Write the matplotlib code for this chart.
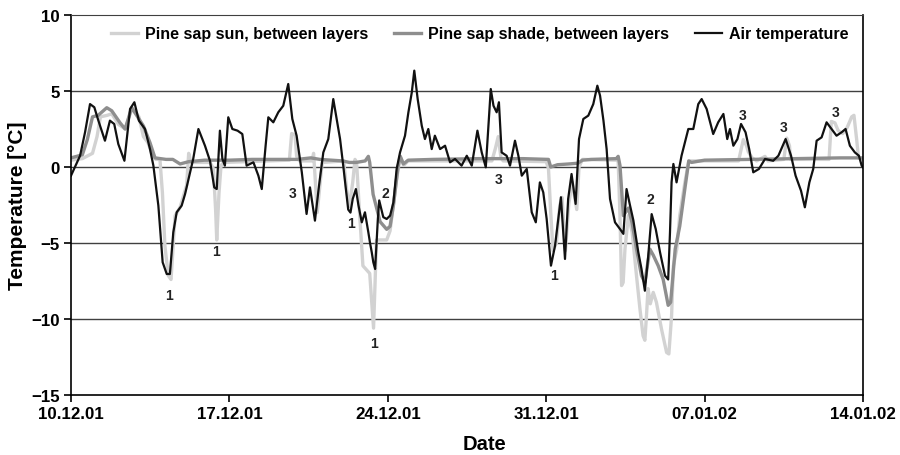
import pandas as pd
import matplotlib.pyplot as plt
import matplotlib.dates as mdates

plt.rcParams['font.family'] = ['Liberation Sans', 'DejaVu Sans']
plt.rcParams['font.weight'] = 'bold'

#Start of the record, all x values are days after it
start = pd.Timestamp('2001-12-10')

#Air temperature (black)
air_day = [0.0, 0.4, 0.62, 0.84, 1.03, 1.21, 1.5, 1.72, 1.91, 2.09, 2.36, 2.61, 2.8, 3.0, 3.27, 3.49,
           3.64, 3.86, 4.05, 4.23, 4.37, 4.52, 4.67, 4.89, 5.04, 5.26, 5.4, 5.63, 5.92, 6.14, 6.33, 6.44,
           6.58, 6.69, 6.8, 6.95, 7.13, 7.36, 7.57, 7.76, 8.06, 8.28, 8.43, 8.6, 8.72, 8.94, 9.16, 9.38,
           9.6, 9.78, 9.97, 10.2, 10.41, 10.56, 10.78, 10.96, 11.15, 11.37, 11.59, 11.74, 11.89, 12.03,
           12.18, 12.25, 12.35, 12.45, 12.59, 12.7, 12.85, 12.99, 13.14, 13.21, 13.29, 13.36, 13.44, 13.56,
           13.62, 13.8, 13.95, 14.1, 14.25, 14.39, 14.54, 14.76, 14.91, 15.06, 15.17, 15.32, 15.5, 15.64,
           15.79, 15.94, 16.08, 16.31, 16.53, 16.75, 16.97, 17.26, 17.49, 17.71, 17.96, 18.15, 18.33, 18.55,
           18.67, 18.81, 18.91, 19.03, 19.25, 19.4, 19.62, 19.77, 19.92, 20.14, 20.36, 20.54, 20.72, 20.87,
           21.02, 21.21, 21.39, 21.65, 21.83, 21.97, 22.12, 22.3, 22.45, 22.64, 22.86, 23.08, 23.26, 23.38,
           23.53, 23.67, 23.82, 24.04, 24.26, 24.41, 24.55, 24.7, 24.85, 25.07, 25.21, 25.36, 25.5, 25.66,
           25.84, 26.03, 26.25, 26.39, 26.47, 26.54, 26.62, 26.76, 26.98, 27.28, 27.5, 27.72, 27.87, 28.09,
           28.38, 28.6, 28.83, 29.0, 29.12, 29.27, 29.45, 29.61, 29.81, 29.97, 30.15, 30.4, 30.67, 31.03,
           31.26, 31.58, 31.82, 32.02, 32.26, 32.43, 32.63, 32.8, 32.95, 33.17, 33.39, 33.61, 33.83, 34.05,
           34.23, 34.42, 34.64, 34.82, 34.94, 35.0]
air_temp = [-0.57, 0.74, 2.28, 4.14, 3.93, 3.05, 1.73, 3.05, 2.83, 1.51, 0.41, 3.82, 4.26, 3.05, 2.5, 1.18,
            0.09, -2.54, -6.27, -7.04, -7.04, -4.3, -2.98, -2.54, -1.78, -0.35, 0.53, 2.5, 1.4, 0.41, -1.34, -1.45,
            2.39, 0.53, 0.09, 3.27, 2.5, 2.39, 2.17, 0.09, 0.31, -0.57, -1.45, 1.4, 3.27, 2.94, 3.6, 4.03,
            5.46, 3.16, 2.06, -0.35, -3.09, -1.34, -3.53, -1.23, 0.96, 1.84, 4.47, 3.16, 1.84, 0.09,
            -1.9, -2.8, -3.0, -2.1, -1.45, -2.5, -3.64, -2.98, -4.3, -4.96, -5.61, -6.27, -6.71, -3.42,
            -2.2, -3.3, -3.42, -3.2, -2.32, -0.13, 0.96, 2.06, 3.6, 4.91, 6.34, 4.47, 2.72, 1.84,
            2.5, 1.18, 2.06, 1.18, 1.4, 0.31, 0.53, 0.09, 0.74, 0.09, 2.39, 0.96, -0.02, 5.13,
            4.03, 3.6, 4.26, 0.96, 0.74, 0.09, 1.73, 0.74, -0.57, -0.13, -2.98, -3.64, -1.01, -1.67,
            -3.42, -6.49, -5.18, -1.99, -6.05, -2.1, -0.46, -2.43, 1.84, 3.16, 3.38, 4.14, 5.35, 4.69,
            3.05, 1.18, -2.1, -3.64, -4.08, -4.4, -1.45, -2.5, -3.5, -5.61, -6.7, -8.14, -6.0, -3.1,
            -4.08, -5.61, -7.15, -7.4, -4.3, -1.0, 0.2, -1.01, 0.74, 2.5, 2.5, 4.14, 4.47, 3.82,
            2.17, 2.94, 3.49, 1.84, 2.5, 1.4, 1.84, 2.83, 2.28, 1.18, -0.35, -0.13, 0.53, 0.41,
            0.74, 1.84, 0.74, -0.57, -1.56, -2.65, -1.01, -0.13, 1.73, 1.95, 2.94, 2.5, 2.06, 2.28,
            2.5, 1.4, 0.96, 0.74, 0.09, -0.02]

#Pine sap, shade (mid grey)
shade_day = [0.0, 0.5, 0.72, 0.95, 1.2, 1.58, 1.8, 2.17, 2.39, 2.68, 2.9, 3.2, 3.49, 3.71, 4.2, 4.5,
             4.82, 5.2, 5.9, 7.0, 8.0, 9.0, 10.0, 10.6, 11.0, 12.0, 12.3, 12.6, 13.0, 13.14, 13.2, 13.35,
             13.66, 13.95, 14.1, 14.25, 14.45, 14.55, 14.69, 14.9, 16.0, 18.0, 20.0, 21.1, 21.2, 21.5,
             22.0, 22.4, 22.6, 23.0, 24.1, 24.18, 24.26, 24.41, 24.63, 24.8, 24.99, 25.21, 25.36, 25.58,
             25.73, 25.95, 26.17, 26.39, 26.5, 26.7, 26.9, 27.13, 27.3, 27.42, 28.0, 30.0, 32.0, 34.0, 35.0]
shade_temp = [0.6, 0.8, 1.8, 3.3, 3.4, 3.9, 3.7, 2.9, 2.5, 3.9, 3.4, 2.7, 1.6, 0.6, 0.5, 0.5,
              0.2, 0.35, 0.45, 0.45, 0.5, 0.5, 0.5, 0.6, 0.5, 0.4, 0.3, 0.3, 0.4, 0.7, 0.3, -1.8,
              -3.6, -4.1, -3.9, -2.5, 0.0, 0.7, 0.2, 0.45, 0.5, 0.55, 0.55, 0.5, 0.0, 0.15,
              0.2, 0.25, 0.45, 0.5, 0.55, 0.7, 0.1, -3.2, -2.7, -3.7, -5.4, -7.15, -7.6, -5.4,
              -5.8, -6.5, -7.4, -9.1, -8.9, -5.4, -3.9, -1.4, 0.4, 0.3, 0.45, 0.5, 0.55, 0.6, 0.6]

#Pine sap, sun (light grey)
sun_day = [0.0, 0.5, 0.95, 1.15, 1.3, 1.6, 1.8, 2.1, 2.4, 2.7, 3.0, 3.2, 3.4, 3.55, 3.75, 3.93,
           4.04, 4.15, 4.3, 4.42, 4.6, 4.82, 5.11, 5.2, 5.3, 6.14, 6.29, 6.39, 6.44, 6.54, 6.63, 6.75,
           9.65, 9.75, 9.9, 9.97, 10.1, 10.65, 10.72, 10.8, 10.88, 11.0, 11.1, 12.05, 12.18, 12.3,
           12.45, 12.55, 12.62, 12.75, 12.9, 13.2, 13.37, 13.5, 13.95, 14.1, 14.39, 14.55, 14.7, 14.9,
           18.6, 18.75, 18.88, 19.0, 19.1, 21.0, 21.1, 21.2, 21.3, 21.45, 21.6, 21.7, 21.85, 22.0,
           22.15, 22.35, 22.45, 22.6, 24.1, 24.18, 24.26, 24.33, 24.4, 24.48, 24.63, 24.8, 24.99, 25.14,
           25.28, 25.36, 25.43, 25.5, 25.6, 25.73, 25.87, 26.1, 26.32, 26.42, 26.54, 26.62, 26.77, 26.9,
           27.13, 27.3, 29.5, 29.71, 29.85, 29.93, 30.1, 30.3, 30.67, 30.8, 31.5, 31.63, 31.75, 31.8,
           33.5, 33.6, 33.76, 33.9, 34.1, 34.3, 34.5, 34.6, 34.72, 34.8, 35.0]
sun_temp = [0.45, 0.55, 0.9, 2.0, 3.3, 3.4, 3.5, 2.8, 2.5, 3.9, 3.3, 2.0, 1.6, 1.0, 0.5, 0.5,
            -1.7, -5.2, -7.15, -7.4, -3.2, -2.65, -1.2, 0.9, 0.3, 0.3, -0.1, -2.8, -4.8, -1.7, 0.1, 0.3,
            0.45, 2.2, 2.1, 0.7, 0.4, 0.4, 0.9, -1.0, -3.0, -1.2, 0.3, 0.4, -1.5, -2.6,
            -1.0, 0.5, 0.3, -3.0, -6.5, -7.0, -10.6, -4.8, -4.8, -4.2, -0.8, 0.7, 0.1, 0.4,
            0.4, 1.2, 2.0, 0.6, 0.4, 0.35, -0.1, -3.0, -5.5, -5.0, -2.5, -2.0, -5.5, -2.4,
            -1.0, -2.8, 0.0, 0.5, 0.45, 0.4, -3.2, -7.8, -7.6, -5.4, -3.2, -4.3, -7.15, -9.3,
            -11.1, -11.4, -9.8, -8.0, -9.0, -8.25, -8.9, -10.7, -12.2, -12.3, -9.8, -6.5, -5.4, -3.2,
            -1.0, 0.4, 0.4, 1.8, 1.4, 1.0, 0.6, 0.4, 0.7, 0.4, 0.5, 1.9, 1.4, 0.5,
            0.5, 3.0, 2.9, 2.4, 2.2, 2.6, 3.3, 3.4, 1.8, 0.6, 0.5]

#Event numbers written on the graph
ann_text = ['1', '1', '3', '1', '1', '2', '3', '1', '2', '3', '3', '3']
ann_day = [4.33, 6.41, 9.78, 12.37, 13.39, 13.88, 18.88, 21.36, 25.62, 29.66, 31.51, 33.79]
ann_temp = [-8.4, -5.5, -1.7, -3.7, -11.6, -1.7, -0.8, -7.1, -2.1, 3.4, 2.6, 3.6]

tick_day = [0, 7, 14, 21, 28, 35]


def to_date(days):
    return start + pd.to_timedelta(days, unit='D')


fig = plt.figure(figsize=(9, 4.56), dpi=100)
ax = fig.add_axes([0.0789, 0.1316, 0.88, 0.8333])

ax.plot(to_date(sun_day), sun_temp, color='#d2d2d2', lw=2.4, label='Pine sap sun, between layers')
ax.plot(to_date(shade_day), shade_temp, color='#8e8e8e', lw=2.4, label='Pine sap shade, between layers')
ax.plot(to_date(air_day), air_temp, color='#111111', lw=1.6, label='Air temperature')

for t, d, v in zip(ann_text, ann_day, ann_temp):
    ax.text(to_date(d), v, t, ha='center', va='center', fontsize=10, fontweight='bold', color='#222222')

#Axes, grid and ticks
ax.set_ylim(-15, 10)
ax.set_xlim(to_date(0), to_date(35))
ax.set_yticks([-15, -10, -5, 0, 5, 10])
ax.set_xticks(to_date(tick_day))
ax.xaxis.set_major_formatter(mdates.DateFormatter('%d.%m.%y'))
for v in [-10, -5, 0, 5]:
    ax.axhline(v, color='#404040', lw=1.0, zorder=0)
ax.spines['top'].set_color('#404040')
ax.tick_params(labelsize=12.2, length=5, width=1.2, pad=3)
for s in ['left', 'bottom', 'right']:
    ax.spines[s].set_linewidth(1.2)

ax.set_ylabel('Temperature [°C]', fontsize=15, fontweight='bold')
ax.yaxis.set_label_coords(-0.055, 0.5)
ax.set_xlabel('Date', fontsize=14.5, fontweight='bold')
ax.xaxis.set_label_coords(0.522, -0.103)

ax.legend(loc='upper center', bbox_to_anchor=(0.516, 1.0), ncol=3, frameon=False,
          fontsize=11.5, handlelength=1.7, handletextpad=0.45, columnspacing=1.6,
          borderaxespad=0.3)

fig.savefig('out.png')
